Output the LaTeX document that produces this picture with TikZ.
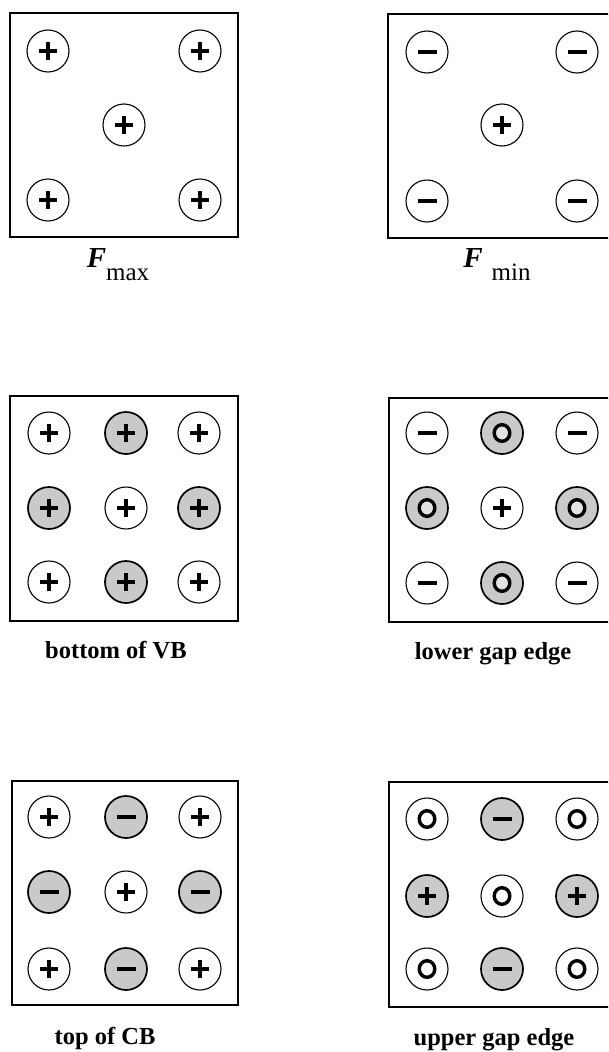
\documentclass[tikz,border=0pt]{standalone}
\usepackage{fontspec}
\setmainfont{Liberation Serif}
\begin{document}
\begin{tikzpicture}[x=1pt,y=-1pt,
  panel/.style={line width=1.5pt},
  atom/.style={circle, draw, minimum size=42pt, inner sep=0pt, line width=1.1pt, fill=white},
  shade/.style={atom, fill=gray!42, line width=1.7pt},
  pl/.style={path picture={\draw[line width=3.6pt]
      ([xshift=-9pt]path picture bounding box.center) -- ([xshift=9pt]path picture bounding box.center)
      ([yshift=-9pt]path picture bounding box.center) -- ([yshift=9pt]path picture bounding box.center);}},
  mi/.style={path picture={\draw[line width=3.8pt]
      ([xshift=-9.5pt]path picture bounding box.center) -- ([xshift=9.5pt]path picture bounding box.center);}},
  ring/.style={path picture={\draw[line width=3.4pt]
      (path picture bounding box.center) ellipse (7.8pt and 8.3pt);}},
  ringg/.style={path picture={\draw[line width=3.4pt, fill=gray!22]
      (path picture bounding box.center) ellipse (7.8pt and 8.3pt);}},
  lbl/.style={anchor=base, font=\fontsize{24.5}{28}\selectfont\bfseries}
]
\useasboundingbox (0,0) rectangle (608,1052);
\clip (0,0) rectangle (608,1052);

% ---------- panel 1: F max ----------
\draw[panel] (10,13) rectangle (238,237);
\node[atom,pl] (a1) at (48,51) {};
\node[atom,pl] (a2) at (200,51) {};
\node[atom,pl] (a3) at (124,125) {};
\node[atom,pl] (a4) at (48,200) {};
\node[atom,pl] (a5) at (200,200) {};
\node[anchor=base] (la) at (118,267) {\fontsize{29}{30}\selectfont\bfseries\itshape F\raisebox{-13pt}{\fontsize{25}{26}\selectfont\mdseries\upshape max}};

% ---------- panel 2: F min ----------
\draw[panel] (616,14) -- (388,14) -- (388,238) -- (616,238);
\node[atom,mi] (b1) at (427,52) {};
\node[atom,mi] (b2) at (577,52) {};
\node[atom,pl] (b3) at (502,125) {};
\node[atom,mi] (b4) at (427,201) {};
\node[atom,mi] (b5) at (577,201) {};
\node[anchor=base] (lb) at (497,267) {\fontsize{29}{30}\selectfont\bfseries\itshape F\hspace{9pt}\raisebox{-13pt}{\fontsize{25}{26}\selectfont\mdseries\upshape min}};

% ---------- panel 3: bottom of VB ----------
\draw[panel] (10,396) rectangle (238,621);
\node[atom,pl]  (c11) at (49,433) {};
\node[shade,pl] (c12) at (126,433) {};
\node[atom,pl]  (c13) at (199,433) {};
\node[shade,pl] (c21) at (49,508) {};
\node[atom,pl]  (c22) at (126,508) {};
\node[shade,pl] (c23) at (199,508) {};
\node[atom,pl]  (c31) at (49,582) {};
\node[shade,pl] (c32) at (126,582) {};
\node[atom,pl]  (c33) at (199,582) {};
\node[lbl] (lc) at (116,658) {bottom of VB};

% ---------- panel 4: lower gap edge ----------
\draw[panel] (616,398) -- (389,398) -- (389,622) -- (616,622);
\node[atom,mi]     (d11) at (427,433) {};
\node[shade,ringg] (d12) at (502,433) {};
\node[atom,mi]     (d13) at (577,433) {};
\node[shade,ringg] (d21) at (427,508) {};
\node[atom,pl]     (d22) at (502,508) {};
\node[shade,ringg] (d23) at (577,508) {};
\node[atom,mi]     (d31) at (427,583) {};
\node[shade,ringg] (d32) at (502,583) {};
\node[atom,mi]     (d33) at (577,583) {};
\node[lbl] (ld) at (493,659) {lower gap edge};

% ---------- panel 5: top of CB ----------
\draw[panel] (12,781) rectangle (238,1005);
\node[atom,pl]  (e11) at (49,817) {};
\node[shade,mi] (e12) at (126,817) {};
\node[atom,pl]  (e13) at (200,817) {};
\node[shade,mi] (e21) at (49,892) {};
\node[atom,pl]  (e22) at (126,892) {};
\node[shade,mi] (e23) at (200,892) {};
\node[atom,pl]  (e31) at (49,969) {};
\node[shade,mi] (e32) at (126,969) {};
\node[atom,pl]  (e33) at (200,969) {};
\node[lbl] (le) at (105,1044) {top of CB};

% ---------- panel 6: upper gap edge ----------
\draw[panel] (616,782) -- (389,782) -- (389,1007) -- (616,1007);
\node[atom,ring] (f11) at (427,819) {};
\node[shade,mi]  (f12) at (502,819) {};
\node[atom,ring] (f13) at (577,819) {};
\node[shade,pl]  (f21) at (427,896) {};
\node[atom,ring] (f22) at (502,896) {};
\node[shade,pl]  (f23) at (577,896) {};
\node[atom,ring] (f31) at (427,969) {};
\node[shade,mi]  (f32) at (502,969) {};
\node[atom,ring] (f33) at (577,969) {};
\node[lbl] (lf) at (494,1045) {upper gap edge};
\end{tikzpicture}
\end{document}
